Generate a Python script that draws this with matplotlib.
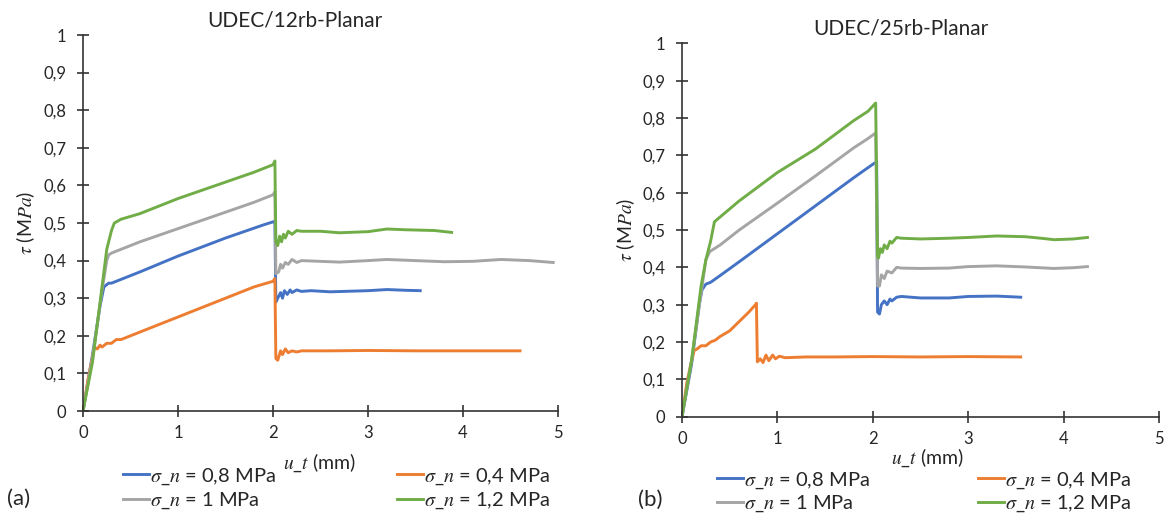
import numpy as np
import matplotlib
matplotlib.use('Agg')
import matplotlib.pyplot as plt
from matplotlib.ticker import FuncFormatter, MultipleLocator

plt.rcParams['font.family'] = ['Lato', 'DejaVu Sans']
plt.rcParams['mathtext.fontset'] = 'stix'

# --- colours (Excel default palette) ---
C_BLUE = '#4472C4'
C_ORANGE = '#ED7D31'
C_GRAY = '#A5A5A5'
C_GREEN = '#70AD47'

# --- (a) UDEC/12rb-Planar ---
a_blue_x = [0, 0.1, 0.18, 0.22, 0.27, 0.3, 0.35, 0.4, 0.6, 1.0, 1.5, 1.9, 2.0, 2.02, 2.03, 2.05,
            2.08, 2.1, 2.12, 2.15, 2.18, 2.2, 2.25, 2.3, 2.4, 2.6, 3.0, 3.2, 3.4, 3.55]
a_blue_y = [0, 0.15, 0.28, 0.33, 0.34, 0.34, 0.345, 0.35, 0.37, 0.412, 0.46, 0.495, 0.503, 0.505, 0.29, 0.30,
            0.315, 0.30, 0.32, 0.31, 0.322, 0.315, 0.322, 0.318, 0.32, 0.317, 0.32, 0.323, 0.321, 0.32]

a_orange_x = [0, 0.05, 0.12, 0.15, 0.18, 0.2, 0.25, 0.3, 0.35, 0.4, 0.6, 1.0, 1.4, 1.8, 2.0, 2.02,
              2.03, 2.05, 2.08, 2.1, 2.13, 2.16, 2.2, 2.25, 2.3, 2.4, 2.6, 3.0, 3.5, 4.0, 4.6]
a_orange_y = [0, 0.08, 0.17, 0.165, 0.175, 0.17, 0.18, 0.18, 0.19, 0.19, 0.21, 0.25, 0.29, 0.33, 0.345, 0.352,
              0.14, 0.135, 0.16, 0.15, 0.165, 0.155, 0.16, 0.157, 0.16, 0.16, 0.16, 0.161, 0.16, 0.16, 0.16]

a_gray_x = [0, 0.1, 0.2, 0.25, 0.27, 0.3, 0.4, 0.6, 1.0, 1.4, 1.8, 2.0, 2.02, 2.03, 2.06, 2.08,
            2.1, 2.13, 2.16, 2.2, 2.25, 2.3, 2.5, 2.7, 3.0, 3.2, 3.5, 3.8, 4.1, 4.4, 4.7, 4.95]
a_gray_y = [0, 0.14, 0.32, 0.4, 0.415, 0.42, 0.43, 0.45, 0.485, 0.52, 0.555, 0.575, 0.583, 0.365, 0.37, 0.39,
            0.38, 0.395, 0.39, 0.403, 0.395, 0.40, 0.398, 0.396, 0.40, 0.403, 0.40, 0.397, 0.398, 0.403, 0.4, 0.395]

a_green_x = [0, 0.1, 0.2, 0.25, 0.3, 0.33, 0.4, 0.6, 1.0, 1.4, 1.8, 2.0, 2.02, 2.03, 2.05, 2.07,
             2.09, 2.11, 2.13, 2.16, 2.2, 2.25, 2.3, 2.5, 2.7, 3.0, 3.2, 3.4, 3.7, 3.88]
a_green_y = [0, 0.13, 0.33, 0.43, 0.48, 0.5, 0.51, 0.525, 0.565, 0.6, 0.635, 0.655, 0.665, 0.45, 0.44, 0.465,
             0.45, 0.47, 0.46, 0.478, 0.47, 0.48, 0.478, 0.478, 0.474, 0.477, 0.484, 0.482, 0.48, 0.475]

# --- (b) UDEC/25rb-Planar ---
b_blue_x = [0, 0.1, 0.18, 0.21, 0.25, 0.3, 0.4, 0.6, 1.0, 1.4, 1.8, 1.95, 2.04, 2.05, 2.07, 2.09,
            2.12, 2.15, 2.18, 2.2, 2.25, 2.3, 2.5, 2.8, 3.0, 3.3, 3.55]
b_blue_y = [0, 0.14, 0.3, 0.34, 0.355, 0.36, 0.378, 0.415, 0.49, 0.565, 0.64, 0.667, 0.683, 0.28, 0.275, 0.3,
            0.31, 0.3, 0.315, 0.31, 0.32, 0.322, 0.318, 0.318, 0.322, 0.323, 0.32]

b_orange_x = [0, 0.05, 0.1, 0.13, 0.15, 0.2, 0.25, 0.3, 0.35, 0.4, 0.5, 0.6, 0.7, 0.77, 0.78, 0.79,
              0.82, 0.85, 0.88, 0.91, 0.95, 0.98, 1.02, 1.08, 1.3, 1.6, 2.0, 2.5, 3.0, 3.55]
b_orange_y = [0, 0.09, 0.15, 0.179, 0.18, 0.19, 0.19, 0.2, 0.205, 0.215, 0.23, 0.255, 0.28, 0.3, 0.304, 0.147,
              0.155, 0.145, 0.165, 0.15, 0.165, 0.155, 0.162, 0.158, 0.16, 0.16, 0.161, 0.16, 0.161, 0.16]

b_gray_x = [0, 0.1, 0.2, 0.25, 0.29, 0.4, 0.6, 1.0, 1.4, 1.8, 1.95, 2.03, 2.05, 2.07, 2.09, 2.12,
            2.15, 2.2, 2.25, 2.3, 2.5, 2.8, 3.0, 3.3, 3.6, 3.9, 4.1, 4.25]
b_gray_y = [0, 0.15, 0.33, 0.42, 0.442, 0.46, 0.5, 0.572, 0.645, 0.72, 0.745, 0.76, 0.35, 0.35, 0.38, 0.37,
            0.39, 0.385, 0.40, 0.398, 0.397, 0.398, 0.402, 0.404, 0.401, 0.397, 0.399, 0.402]

b_green_x = [0, 0.1, 0.2, 0.25, 0.3, 0.34, 0.4, 0.6, 1.0, 1.4, 1.8, 1.95, 2.03, 2.05, 2.06, 2.08,
             2.1, 2.12, 2.15, 2.18, 2.2, 2.25, 2.3, 2.5, 2.8, 3.0, 3.3, 3.6, 3.8, 3.9, 4.1, 4.25]
b_green_y = [0, 0.15, 0.35, 0.42, 0.47, 0.522, 0.535, 0.578, 0.654, 0.717, 0.793, 0.818, 0.84, 0.43, 0.425, 0.45,
             0.44, 0.46, 0.45, 0.47, 0.465, 0.48, 0.478, 0.476, 0.478, 0.48, 0.484, 0.482, 0.477, 0.474, 0.476, 0.48]

labels = [r'$\sigma$_$n$ = 0,8 MPa', r'$\sigma$_$n$ = 1 MPa',
          r'$\sigma$_$n$ = 0,4 MPa', r'$\sigma$_$n$ = 1,2 MPa']

TXT = '#262626'
W, H = 1164, 515


def fmt_y(v, pos):
    if abs(v) < 1e-9:
        return '0'
    if abs(v - 1) < 1e-9:
        return '1'
    return f'{v:.1f}'.replace('.', ',')


def setup_axes(ax, title, title_x, ylabel_x, xlabel_pos):
    ax.set_xlim(0, 5)
    ax.set_ylim(0, 1)
    for s in ['top', 'right']:
        ax.spines[s].set_visible(False)
    for s in ['left', 'bottom']:
        ax.spines[s].set_color('#333333')
        ax.spines[s].set_linewidth(1.2)
    ax.xaxis.set_major_locator(MultipleLocator(1))
    ax.yaxis.set_major_locator(MultipleLocator(0.1))
    ax.yaxis.set_major_formatter(FuncFormatter(fmt_y))
    ax.tick_params(direction='inout', length=8, width=1.2, color='#333333',
                   labelsize=12, labelcolor=TXT)
    ax.tick_params(axis='y', pad=8)
    ax.tick_params(axis='x', pad=6)
    ax.set_ylabel(r'$\tau$ (M$Pa$)', fontsize=14, color=TXT)
    ax.yaxis.set_label_coords(ylabel_x, 0.5)
    ax.set_xlabel(r'$u$_$t$ (mm)', fontsize=14, color=TXT)
    ax.xaxis.set_label_coords(*xlabel_pos)
    ax.text(title_x, 1.0 + 0.012, title, transform=ax.transAxes, ha='center',
            va='bottom', fontsize=15, color=TXT)


def draw(ax, series):
    handles = []
    for (x, y, c) in series:
        h, = ax.plot(x, y, color=c, lw=2.1, solid_joinstyle='round')
        handles.append(h)
    return handles


fig = plt.figure(figsize=(W / 100, H / 100), dpi=100)

ax1 = fig.add_axes([83 / W, 1 - 411 / H, 475 / W, 376 / H])
h1 = draw(ax1, [(a_blue_x, a_blue_y, C_BLUE), (a_orange_x, a_orange_y, C_ORANGE),
                (a_gray_x, a_gray_y, C_GRAY), (a_green_x, a_green_y, C_GREEN)])
setup_axes(ax1, 'UDEC/12rb-Planar', 0.446, -0.097, (0.497, -0.108))

ax2 = fig.add_axes([682 / W, 1 - 416.7 / H, 477 / W, 373.4 / H])
h2 = draw(ax2, [(b_blue_x, b_blue_y, C_BLUE), (b_orange_x, b_orange_y, C_ORANGE),
                (b_gray_x, b_gray_y, C_GRAY), (b_green_x, b_green_y, C_GREEN)])
setup_axes(ax2, 'UDEC/25rb-Planar', 0.459, -0.094, (0.515, -0.08))

# legends: two columns, row 1 blue/orange, row 2 gray/green
for ax, h, x0, y0, cs, ls in [(ax1, h1, 123, 466, 6.0, 0.2), (ax2, h2, 717, 470, 5.35, 0.15)]:
    ax.legend([h[0], h[2], h[1], h[3]], labels, ncol=2, frameon=False,
              loc='upper left', bbox_to_anchor=(x0 / W, 1 - y0 / H),
              bbox_transform=fig.transFigure, borderpad=0, borderaxespad=0,
              fontsize=14.5, handlelength=1.3, handletextpad=0.06,
              columnspacing=cs, labelspacing=ls, labelcolor=TXT)

fig.text(7 / W, 1 - 499 / H, '(a)', fontsize=16, color=TXT, va='center', ha='left')
fig.text(638 / W, 1 - 500 / H, '(b)', fontsize=16, color=TXT, va='center', ha='left')

fig.savefig('out.png', dpi=100)
